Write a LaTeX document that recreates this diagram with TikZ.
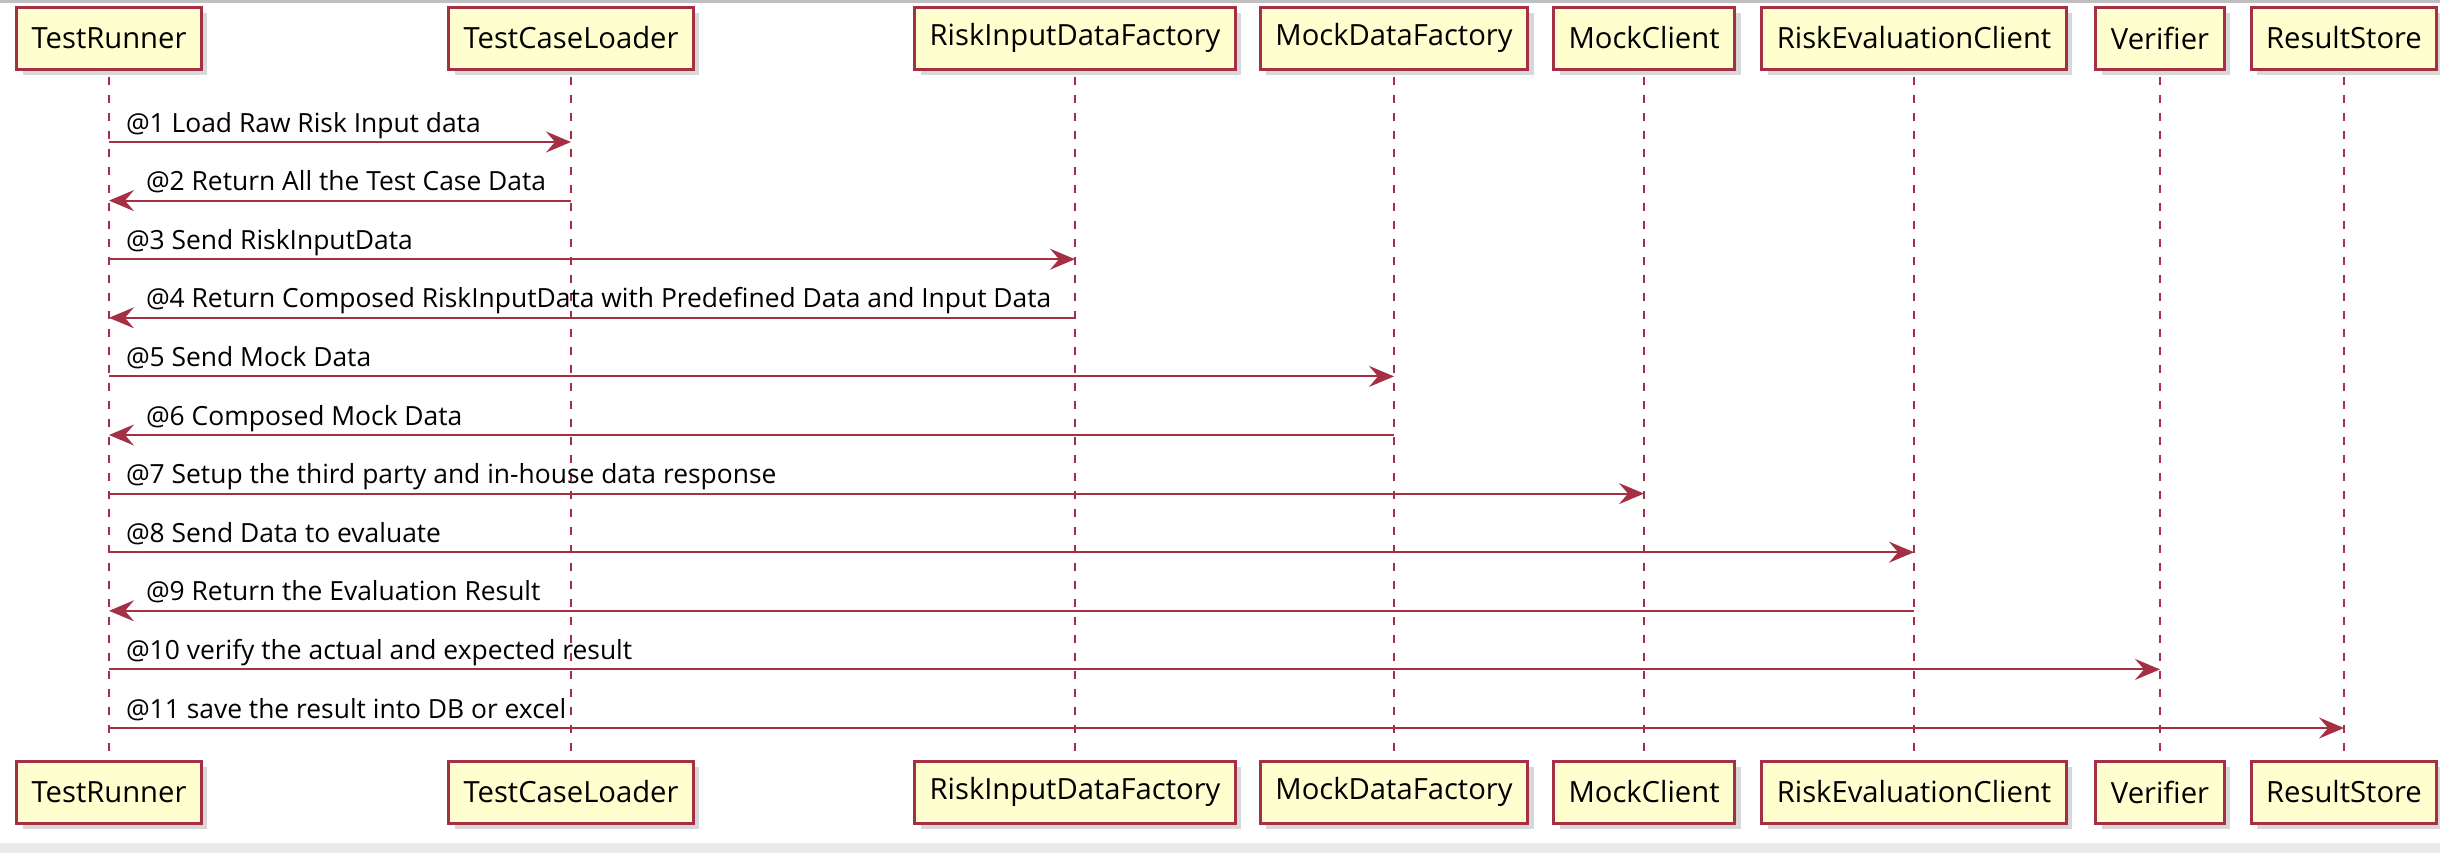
\documentclass[tikz,border=0pt]{standalone}
\usepackage{fontspec}
\setmainfont{Open Sans}
\usepackage{tikz}
\usetikzlibrary{shapes,arrows.meta,shadows}
\definecolor{umlred}{HTML}{A52F45}
\definecolor{umlfill}{HTML}{FEFECE}

\begin{document}
\begin{tikzpicture}[x=0.5pt,y=-0.5pt,
		part/.style={draw=umlred, line width=1.5pt, fill=umlfill, minimum height=31pt, inner xsep=7.5pt,
			font=\fontsize{14.6}{16}\selectfont,
			drop shadow={shadow xshift=3pt, shadow yshift=-3pt, fill=black!30}},
		life/.style={umlred, line width=1pt, dash pattern=on 4pt off 5pt},
		msg/.style={umlred, line width=1pt, -{Stealth[length=12.5pt,width=10.5pt,inset=4.5pt]}},
		sndlbl/.style={anchor=base west, xshift=8pt, yshift=5pt, inner sep=0pt, text=black,
			font=\fontsize{13.2}{15}\selectfont},
		retlbl/.style={sndlbl, xshift=10pt}]
		\fill[white] (0,0) rectangle (2440,853);
		\fill[black!25] (0,0) rectangle (2440,3);
		\fill[black!8] (0,843) rectangle (2440,853);
		\node[part] (tr) at (109,38) {TestRunner};
		\node[part] (tcl) at (571,38) {TestCaseLoader};
		\node[part] (ridf) at (1075,38) {RiskInputDataFactory};
		\node[part] (mdf) at (1394,38) {MockDataFactory};
		\node[part] (mc) at (1644,38) {MockClient};
		\node[part] (rec) at (1914,38) {RiskEvaluationClient};
		\node[part] (ver) at (2160,38) {Verifier};
		\node[part] (rs) at (2344,38) {ResultStore};
		\node[part] (trb) at (109,792) {TestRunner};
		\node[part] (tclb) at (571,792) {TestCaseLoader};
		\node[part] (ridfb) at (1075,792) {RiskInputDataFactory};
		\node[part] (mdfb) at (1394,792) {MockDataFactory};
		\node[part] (mcb) at (1644,792) {MockClient};
		\node[part] (recb) at (1914,792) {RiskEvaluationClient};
		\node[part] (verb) at (2160,792) {Verifier};
		\node[part] (rsb) at (2344,792) {ResultStore};
		\foreach \a in {tr,tcl,ridf,mdf,mc,rec,ver,rs}
			\draw[life] ([yshift=-3pt]\a.south) -- (\a b.north);
		\foreach \i in {1,...,11}
			\coordinate (m\i) at (0,{142+58.6*(\i-1)});
		\draw[msg] (tr |- m1) -- (tcl |- m1) node[pos=0, sndlbl] (l1) {@1 Load Raw Risk Input data};
		\draw[msg] (tcl |- m2) -- (tr |- m2) node[pos=1, retlbl] (l2) {@2 Return All the Test Case Data};
		\draw[msg] (tr |- m3) -- (ridf |- m3) node[pos=0, sndlbl] (l3) {@3 Send RiskInputData};
		\draw[msg] (ridf |- m4) -- (tr |- m4) node[pos=1, retlbl] (l4) {@4 Return Composed RiskInputData with Predefined Data and Input Data};
		\draw[msg] (tr |- m5) -- (mdf |- m5) node[pos=0, sndlbl] (l5) {@5 Send Mock Data};
		\draw[msg] (mdf |- m6) -- (tr |- m6) node[pos=1, retlbl] (l6) {@6 Composed Mock Data};
		\draw[msg] (tr |- m7) -- (mc |- m7) node[pos=0, sndlbl] (l7) {@7 Setup the third party and in-house data response};
		\draw[msg] (tr |- m8) -- (rec |- m8) node[pos=0, sndlbl] (l8) {@8 Send Data to evaluate};
		\draw[msg] (rec |- m9) -- (tr |- m9) node[pos=1, retlbl] (l9) {@9 Return the Evaluation Result};
		\draw[msg] (tr |- m10) -- (ver |- m10) node[pos=0, sndlbl] (l10) {@10 verify the actual and expected result};
		\draw[msg] (tr |- m11) -- (rs |- m11) node[pos=0, sndlbl] (l11) {@11 save the result into DB or excel};
		\end{tikzpicture}
\end{document}
